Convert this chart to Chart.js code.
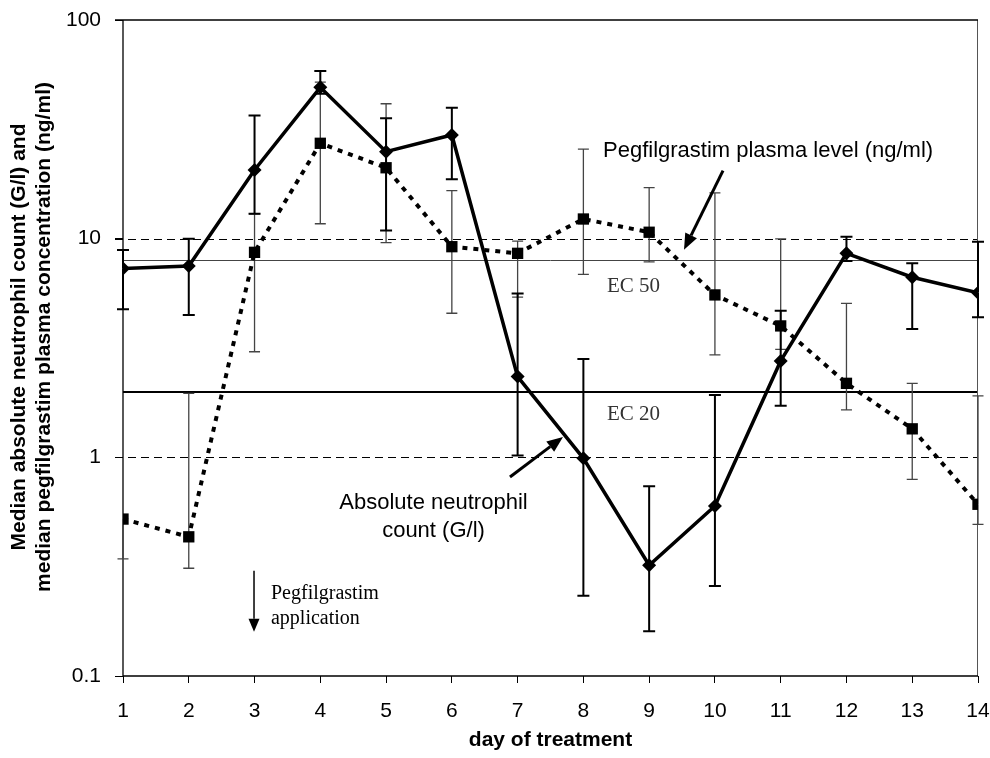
<!DOCTYPE html>
<html><head><meta charset="utf-8">
<script src="https://cdn.jsdelivr.net/npm/chart.js@4.4.1/dist/chart.umd.min.js"></script>
<style>html,body{margin:0;padding:0;background:#fff;}#wrap{width:990px;height:758px;}</style>
</head><body><div id="wrap"><canvas id="c" width="990" height="758"></canvas></div>
<script>
// ---- data ----
const days = [1,2,3,4,5,6,7,8,9,10,11,12,13,14];
const ancMedian = [7.31, 7.50, 20.6, 49.2, 25.0, 29.8, 2.34, 0.99, 0.321, 0.599, 2.76, 8.57, 6.66, 5.66];
const ancLow    = [4.75, 4.48, 13.0, 46.0, 10.9, 18.7, 1.02, 0.233, 0.160, 0.258, 1.72, 7.9, 3.86, 4.37];
const ancHigh   = [8.87, 10.0, 36.6, 58.4, 35.5, 39.7, 5.62, 2.82, 0.737, 1.93, 4.68, 10.2, 7.71, 9.68];
const pegMedian = [0.522, 0.433, 8.66, 27.3, 21.1, 9.19, 8.57, 12.3, 10.7, 5.53, 3.99, 2.18, 1.35, 0.61];
const pegLow    = [0.343, 0.311, 3.04, 11.7, 9.6, 4.56, 5.40, 6.87, 7.84, 2.94, 3.12, 1.65, 0.793, 0.494];
const pegHigh   = [null, 1.96, 13.0, 52.0, 41.4, 16.6, 9.75, 25.7, 17.1, 16.2, 9.97, 5.06, 2.18, 1.91];
const yTickValues = [0.1, 1, 10, 100];
const dashedLevels = [10, 1];
const ec50Level = 8;
const ec20Level = 2;

const SANS = "'Liberation Sans', Arial, sans-serif";
const SERIF = "'Liberation Serif', 'Times New Roman', serif";

function arrow(ctx, x1, y1, x2, y2, lw, hl, hw) {
  const ang = Math.atan2(y2 - y1, x2 - x1);
  const bx = x2 - hl * Math.cos(ang), by = y2 - hl * Math.sin(ang);
  ctx.lineWidth = lw;
  ctx.beginPath(); ctx.moveTo(x1, y1); ctx.lineTo(bx, by); ctx.stroke();
  ctx.beginPath();
  ctx.moveTo(x2, y2);
  ctx.lineTo(bx + hw / 2 * Math.sin(ang), by - hw / 2 * Math.cos(ang));
  ctx.lineTo(bx - hw / 2 * Math.sin(ang), by + hw / 2 * Math.cos(ang));
  ctx.closePath(); ctx.fill();
}

const overlay = {
  id: 'overlay',
  beforeDatasetsDraw(chart) {
    const {ctx, chartArea: a, scales: {x, y}} = chart;
    ctx.save();
    // dashed grid lines
    ctx.strokeStyle = '#000'; ctx.lineWidth = 1.2; ctx.setLineDash([8, 5]);
    dashedLevels.forEach(v => {
      const py = Math.round(y.getPixelForValue(v)) + 0.5;
      ctx.beginPath(); ctx.moveTo(a.left - 8, py); ctx.lineTo(a.right, py); ctx.stroke();
    });
    ctx.setLineDash([]);
    // EC50
    let py = Math.round(y.getPixelForValue(ec50Level)) + 0.5;
    ctx.strokeStyle = '#444'; ctx.lineWidth = 1;
    ctx.beginPath(); ctx.moveTo(a.left, py); ctx.lineTo(a.right, py); ctx.stroke();
    // EC20
    py = Math.round(y.getPixelForValue(ec20Level));
    ctx.strokeStyle = '#000'; ctx.lineWidth = 2;
    ctx.beginPath(); ctx.moveTo(a.left, py); ctx.lineTo(a.right, py); ctx.stroke();
    // frame
    ctx.strokeStyle = '#555'; ctx.lineWidth = 1;
    ctx.beginPath(); ctx.moveTo(a.right - 0.5, a.top); ctx.lineTo(a.right - 0.5, a.bottom); ctx.stroke();
    ctx.strokeStyle = '#000'; ctx.lineWidth = 1.3;
    ctx.beginPath(); ctx.moveTo(a.left - 8, a.top); ctx.lineTo(a.right, a.top); ctx.stroke();
    ctx.beginPath(); ctx.moveTo(a.left, a.top); ctx.lineTo(a.left, a.bottom); ctx.lineTo(a.right, a.bottom); ctx.stroke();
    // error bars
    const drawBars = (lo, hi, med, color, lw, cap) => {
      ctx.strokeStyle = color; ctx.lineWidth = lw;
      days.forEach((d, i) => {
        const px = x.getPixelForValue(d);
        const pm = y.getPixelForValue(med[i]);
        [lo[i], hi[i]].forEach(v => {
          if (v == null) return;
          const pv = y.getPixelForValue(v);
          ctx.beginPath(); ctx.moveTo(px, pm); ctx.lineTo(px, pv);
          ctx.moveTo(px - cap, pv); ctx.lineTo(px + cap, pv); ctx.stroke();
        });
      });
    };
    drawBars(pegLow, pegHigh, pegMedian, '#444', 1.3, 5.5);
    drawBars(ancLow, ancHigh, ancMedian, '#000', 2, 6);
    ctx.restore();
  },
  afterDraw(chart) {
    const {ctx, scales: {x, y}} = chart;
    const P = (xv, yv) => [x.getPixelForValue(xv), y.getPixelForValue(yv)];
    ctx.save();
    ctx.fillStyle = '#000'; ctx.strokeStyle = '#000';
    // y axis title
    ctx.font = 'bold 21px ' + SANS; ctx.textAlign = 'center'; ctx.textBaseline = 'alphabetic';
    const cy = (chart.chartArea.top + chart.chartArea.bottom) / 2 - 11;
    [['Median absolute neutrophil count (G/l) and', 25], ['median pegfilgrastim plasma concentration (ng/ml)', 50]].forEach(([t, bx]) => {
      ctx.save(); ctx.translate(bx, cy); ctx.rotate(-Math.PI / 2); ctx.fillText(t, 0, 0); ctx.restore();
    });
    // annotations
    ctx.font = '22px ' + SANS; ctx.textAlign = 'left';
    let p = P(8.298, 23.7); ctx.fillText('Pegfilgrastim plasma level (ng/ml)', p[0], p[1]);
    ctx.textAlign = 'center';
    p = P(5.721, 0.581); ctx.fillText('Absolute neutrophil', p[0], p[1]);
    p = P(5.721, 0.432); ctx.fillText('count (G/l)', p[0], p[1]);
    ctx.fillStyle = '#333'; ctx.font = '21px ' + SERIF; ctx.textAlign = 'left';
    p = P(8.359, 5.70); ctx.fillText('EC 50', p[0], p[1]);
    p = P(8.359, 1.48); ctx.fillText('EC 20', p[0], p[1]);
    ctx.fillStyle = '#000'; ctx.font = '20px ' + SERIF;
    p = P(3.25, 0.225); ctx.fillText('Pegfilgrastim', p[0], p[1]);
    p = P(3.25, 0.173); ctx.fillText('application', p[0], p[1]);
    // arrows
    let a1 = P(10.123, 20.46), a2 = P(9.530, 8.90);
    arrow(ctx, a1[0], a1[1], a2[0], a2[1], 3, 16, 13);
    a1 = P(6.884, 0.813); a2 = P(7.690, 1.239);
    arrow(ctx, a1[0], a1[1], a2[0], a2[1], 3, 16, 13);
    a1 = P(2.992, 0.303); a2 = P(2.992, 0.1594);
    arrow(ctx, a1[0], a1[1], a2[0], a2[1], 1.5, 13, 11);
    ctx.restore();
  }
};

new Chart(document.getElementById('c'), {
  type: 'line',
  data: {
    datasets: [
      {
        label: 'Absolute neutrophil count (G/l)',
        data: days.map((d, i) => ({x: d, y: ancMedian[i]})),
        borderColor: '#000', backgroundColor: '#000', borderWidth: 3.5,
        pointStyle: 'rectRot', pointRadius: 7, pointBorderWidth: 0, tension: 0, order: 1
      },
      {
        label: 'Pegfilgrastim plasma level (ng/ml)',
        data: days.map((d, i) => ({x: d, y: pegMedian[i]})),
        borderColor: '#000', backgroundColor: '#000', borderWidth: 4, borderDash: [5, 6],
        pointStyle: 'rect', pointRadius: 8, pointBorderWidth: 0, tension: 0, order: 2
      }
    ]
  },
  options: {
    responsive: false, animation: false, devicePixelRatio: 1,
    layout: {padding: {top: 20, right: 12, left: 0, bottom: 0}},
    plugins: {legend: {display: false}, tooltip: {enabled: false}},
    scales: {
      x: {
        type: 'linear', min: 1, max: 14,
        afterBuildTicks: s => { s.ticks = days.map(v => ({value: v})); },
        ticks: {font: {family: SANS, size: 21}, color: '#000', padding: 16, maxRotation: 0, autoSkip: false, callback: v => String(v)},
        grid: {drawOnChartArea: false, tickLength: 7, color: '#000', lineWidth: 1},
        border: {display: false},
        title: {display: true, text: 'day of treatment', color: '#000', font: {family: SANS, size: 21, weight: 'bold'}, padding: {top: 0, bottom: 5}},
        afterFit: s => { s.height = 82; s.paddingLeft = 0; s.paddingRight = 0; }
      },
      y: {
        type: 'logarithmic', min: 0.1, max: 100,
        afterBuildTicks: s => { s.ticks = yTickValues.map(v => ({value: v, major: true})); },
        ticks: {font: {family: SANS, size: 21}, color: '#000', padding: 14, callback: v => String(v)},
        grid: {drawOnChartArea: false, tickLength: 8, color: '#000', lineWidth: 1},
        border: {display: false},
        afterFit: s => { s.width = 123; s.paddingTop = 0; s.paddingBottom = 0; }
      }
    }
  },
  plugins: [overlay]
});
</script>
</body></html>
